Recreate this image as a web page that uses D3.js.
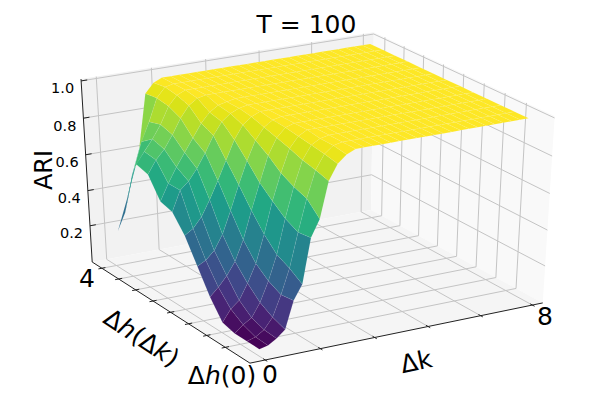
<!DOCTYPE html>
<html>
<head>
<meta charset="utf-8">
<script src="https://cdn.jsdelivr.net/npm/d3@7"></script>
<style>
body{margin:0;background:#fff;}
text{font-family:"DejaVu Sans";fill:#000;}
</style>
</head>
<body>
<div id="chart"></div>
<script>
const svgWidth=613;
const svgHeight=394;

// grid of the surface
const deltaK=[0,0.25,0.5,0.75,1,1.25,1.5,1.75,2,2.25,2.5,2.75,3,3.25,3.5,3.75,4,4.25,4.5,4.75,5,5.25,5.5,5.75,6,6.25,6.5,6.75,7,7.25,7.5,7.75];
const deltaH=[0,0.325,0.65,0.975,1.3,1.625,1.95,2.275,2.6,2.925,3.25,3.575,3.9];

// ARI, one row per deltaH, one column per deltaK
const ari=[
[.03,.04,.07,.11,.26,.34,.58,.67,.86,.94,.98,1,1,1,1,1,1,1,1,1,1,1,1,1,1,1,1,1,1,1,1,1],
[.03,.045,.075,.135,.25,.385,.57,.74,.88,.955,.99,1,1,1,1,1,1,1,1,1,1,1,1,1,1,1,1,1,1,1,1,1],
[.03,.07,.10,.175,.285,.42,.605,.765,.895,.965,.99,1,1,1,1,1,1,1,1,1,1,1,1,1,1,1,1,1,1,1,1,1],
[.05,.115,.155,.24,.34,.49,.66,.80,.92,.975,1,1,1,1,1,1,1,1,1,1,1,1,1,1,1,1,1,1,1,1,1,1],
[.15,.195,.25,.32,.43,.58,.72,.855,.94,.985,1,1,1,1,1,1,1,1,1,1,1,1,1,1,1,1,1,1,1,1,1,1],
[.28,.305,.35,.43,.55,.68,.80,.90,.96,.99,1,1,1,1,1,1,1,1,1,1,1,1,1,1,1,1,1,1,1,1,1,1],
[.41,.44,.495,.58,.675,.775,.875,.945,.98,1,1,1,1,1,1,1,1,1,1,1,1,1,1,1,1,1,1,1,1,1,1,1],
[.50,.61,.65,.71,.785,.87,.935,.97,.99,1,1,1,1,1,1,1,1,1,1,1,1,1,1,1,1,1,1,1,1,1,1,1],
[.52,.61,.69,.76,.83,.90,.95,.98,.99,1,1,1,1,1,1,1,1,1,1,1,1,1,1,1,1,1,1,1,1,1,1,1],
[.63,.70,.75,.82,.90,.96,.99,1,1,1,1,1,1,1,1,1,1,1,1,1,1,1,1,1,1,1,1,1,1,1,1,1],
[.65,.71,.77,.84,.93,.98,1,1,1,1,1,1,1,1,1,1,1,1,1,1,1,1,1,1,1,1,1,1,1,1,1,1],
[.42,.58,.72,.82,.94,.99,1,1,1,1,1,1,1,1,1,1,1,1,1,1,1,1,1,1,1,1,1,1,1,1,1,1],
[.20,.30,.50,.64,.93,.98,1,1,1,1,1,1,1,1,1,1,1,1,1,1,1,1,1,1,1,1,1,1,1,1,1,1]
];

// ticks
const xTicks=[0,1.6,3.2,4.8,6.4,8];
const xTickLabels=["0","","","","","8"];
const yTicks=[0.5,1,1.5,2,2.5,3,3.5,4];
const yTickLabels=["","","","","","","","4"];
const zTicks=[0.2,0.4,0.6,0.8,1];
const zTickLabels=["0.2","0.4","0.6","0.8","1.0"];

// axes run inside a unit box, the panes fill the whole box
const xScale=d3.scaleLinear().domain([0,8]).range([0.05,0.963]);
const yScale=d3.scaleLinear().domain([0,4]).range([0.034,0.934]);
const zScale=d3.scaleLinear().domain([-0.01,1.01]).range([0,1]);

// camera: elev 30, azim -120, dist 10
const elev=30*Math.PI/180;
const azim=-120*Math.PI/180;
const dist=10;
const n=[Math.cos(elev)*Math.cos(azim),Math.cos(elev)*Math.sin(azim),Math.sin(elev)];
const side=[-Math.sin(azim),Math.cos(azim),0];
const up=[-Math.sin(elev)*Math.cos(azim),-Math.sin(elev)*Math.sin(azim),Math.cos(elev)];

function dot(a,u,v,w){
    return a[0]*(u-0.5)+a[1]*(v-0.5)+a[2]*(w-0.5);
}
function project(u,v,w){
    const p=dist-dot(n,u,v,w);
    return [314+3380*dot(side,u,v,w)/p, 192-2134*dot(up,u,v,w)/p];
}
const line3d=pts=>"M"+pts.map(p=>project(p[0],p[1],p[2]).join(",")).join("L");

const svg=d3.select("#chart")
    .append("svg")
    .attr("width",svgWidth)
    .attr("height",svgHeight);

// panes
const panes=[
    {fill:"#f2f2f2",pts:[[0,1,0],[1,1,0],[1,1,1],[0,1,1]]},
    {fill:"#f9f9f9",pts:[[1,0,0],[1,1,0],[1,1,1],[1,0,1]]},
    {fill:"#f5f5f5",pts:[[0,0,0],[1,0,0],[1,1,0],[0,1,0]]}
];
svg.append("g").selectAll("path")
    .data(panes)
    .enter()
    .append("path")
    .attr("d",d=>line3d(d.pts)+"Z")
    .attr("fill",d=>d.fill);

// grid lines
const gridGroup=svg.append("g")
    .attr("fill","none")
    .attr("stroke","#c4c4c4")
    .attr("stroke-width",1);
xTicks.forEach(t=>{
    const u=xScale(t);
    gridGroup.append("path").attr("d",line3d([[u,0,0],[u,1,0],[u,1,1]]));
});
yTicks.forEach(t=>{
    const v=yScale(t);
    gridGroup.append("path").attr("d",line3d([[0,v,0],[1,v,0],[1,v,1]]));
});
zTicks.forEach(t=>{
    const w=zScale(t);
    gridGroup.append("path").attr("d",line3d([[0,1,w],[1,1,w],[1,0,w]]));
});

// axis lines and tick marks
const axisGroup=svg.append("g")
    .attr("fill","none")
    .attr("stroke","#222")
    .attr("stroke-width",1);
axisGroup.append("path").attr("d",line3d([[1,0,0],[0,0,0],[0,1,0],[0,1,1]]));
xTicks.forEach(t=>{
    axisGroup.append("path").attr("d",line3d([[xScale(t),-0.012,0],[xScale(t),0.012,0]]));
});
yTicks.forEach(t=>{
    axisGroup.append("path").attr("d",line3d([[-0.012,yScale(t),0],[0.012,yScale(t),0]]));
});
zTicks.forEach(t=>{
    axisGroup.append("path").attr("d",line3d([[0,1,zScale(t)],[0.02,1,zScale(t)]]));
});

// surface, farthest quads first
const quads=[];
for(let j=0;j<deltaH.length-1;j++){
    for(let i=0;i<deltaK.length-1;i++){
        const corners=[[i,j],[i+1,j],[i+1,j+1],[i,j+1]]
            .map(c=>[xScale(deltaK[c[0]]),yScale(deltaH[c[1]]),zScale(ari[c[1]][c[0]]),ari[c[1]][c[0]]]);
        quads.push({
            pts:corners,
            mean:d3.mean(corners,c=>c[3]),
            depth:d3.mean(corners,c=>dot(n,c[0],c[1],c[2]))
        });
    }
}
quads.sort((a,b)=>a.depth-b.depth);
const zExtent=d3.extent(ari.flat());
const color=d3.scaleSequential(d3.interpolateViridis).domain(zExtent);

svg.append("g").selectAll("path")
    .data(quads)
    .enter()
    .append("path")
    .attr("d",d=>line3d(d.pts)+"Z")
    .attr("fill",d=>color(d.mean))
    .attr("stroke","#fff")
    .attr("stroke-opacity",0.15)
    .attr("stroke-width",0.4);

// texts
svg.append("text")
    .attr("x",306.5)
    .attr("y",33)
    .attr("text-anchor","middle")
    .attr("font-size",25)
    .text("T = 100");

svg.append("text")
    .attr("transform","translate(52,170)rotate(-90)")
    .attr("text-anchor","middle")
    .attr("font-size",24)
    .text("ARI");

zTicks.forEach((t,k)=>{
    const p=project(0,1,zScale(t));
    svg.append("text")
        .attr("x",p[0]-7)
        .attr("y",p[1]+12.5)
        .attr("text-anchor","end")
        .attr("font-size",14.5)
        .text(zTickLabels[k]);
});

const bigLabels=[
    {label:xTickLabels[0],x:270,y:383},
    {label:xTickLabels[5],x:545,y:325},
    {label:yTickLabels[7],x:87,y:287}
];
svg.append("g").selectAll("text")
    .data(bigLabels)
    .enter()
    .append("text")
    .attr("x",d=>d.x)
    .attr("y",d=>d.y)
    .attr("text-anchor","middle")
    .attr("font-size",25)
    .text(d=>d.label);

function deltaLabel(transform,parts){
    const t=svg.append("text")
        .attr("transform",transform)
        .attr("text-anchor","middle")
        .attr("font-size",25);
    parts.forEach(p=>{
        t.append("tspan").attr("font-style",p[1]?"italic":"normal").text(p[0]);
    });
}
deltaLabel("translate(222,384)",[["Δ",0],["h",1],["(0)",0]]);
deltaLabel("translate(137,345)rotate(33)",[["Δ",0],["h",1],["(Δ",0],["k",1],[")",0]]);
deltaLabel("translate(418,370)rotate(-12)",[["Δ",0],["k",0]]);
</script>
</body>
</html>
